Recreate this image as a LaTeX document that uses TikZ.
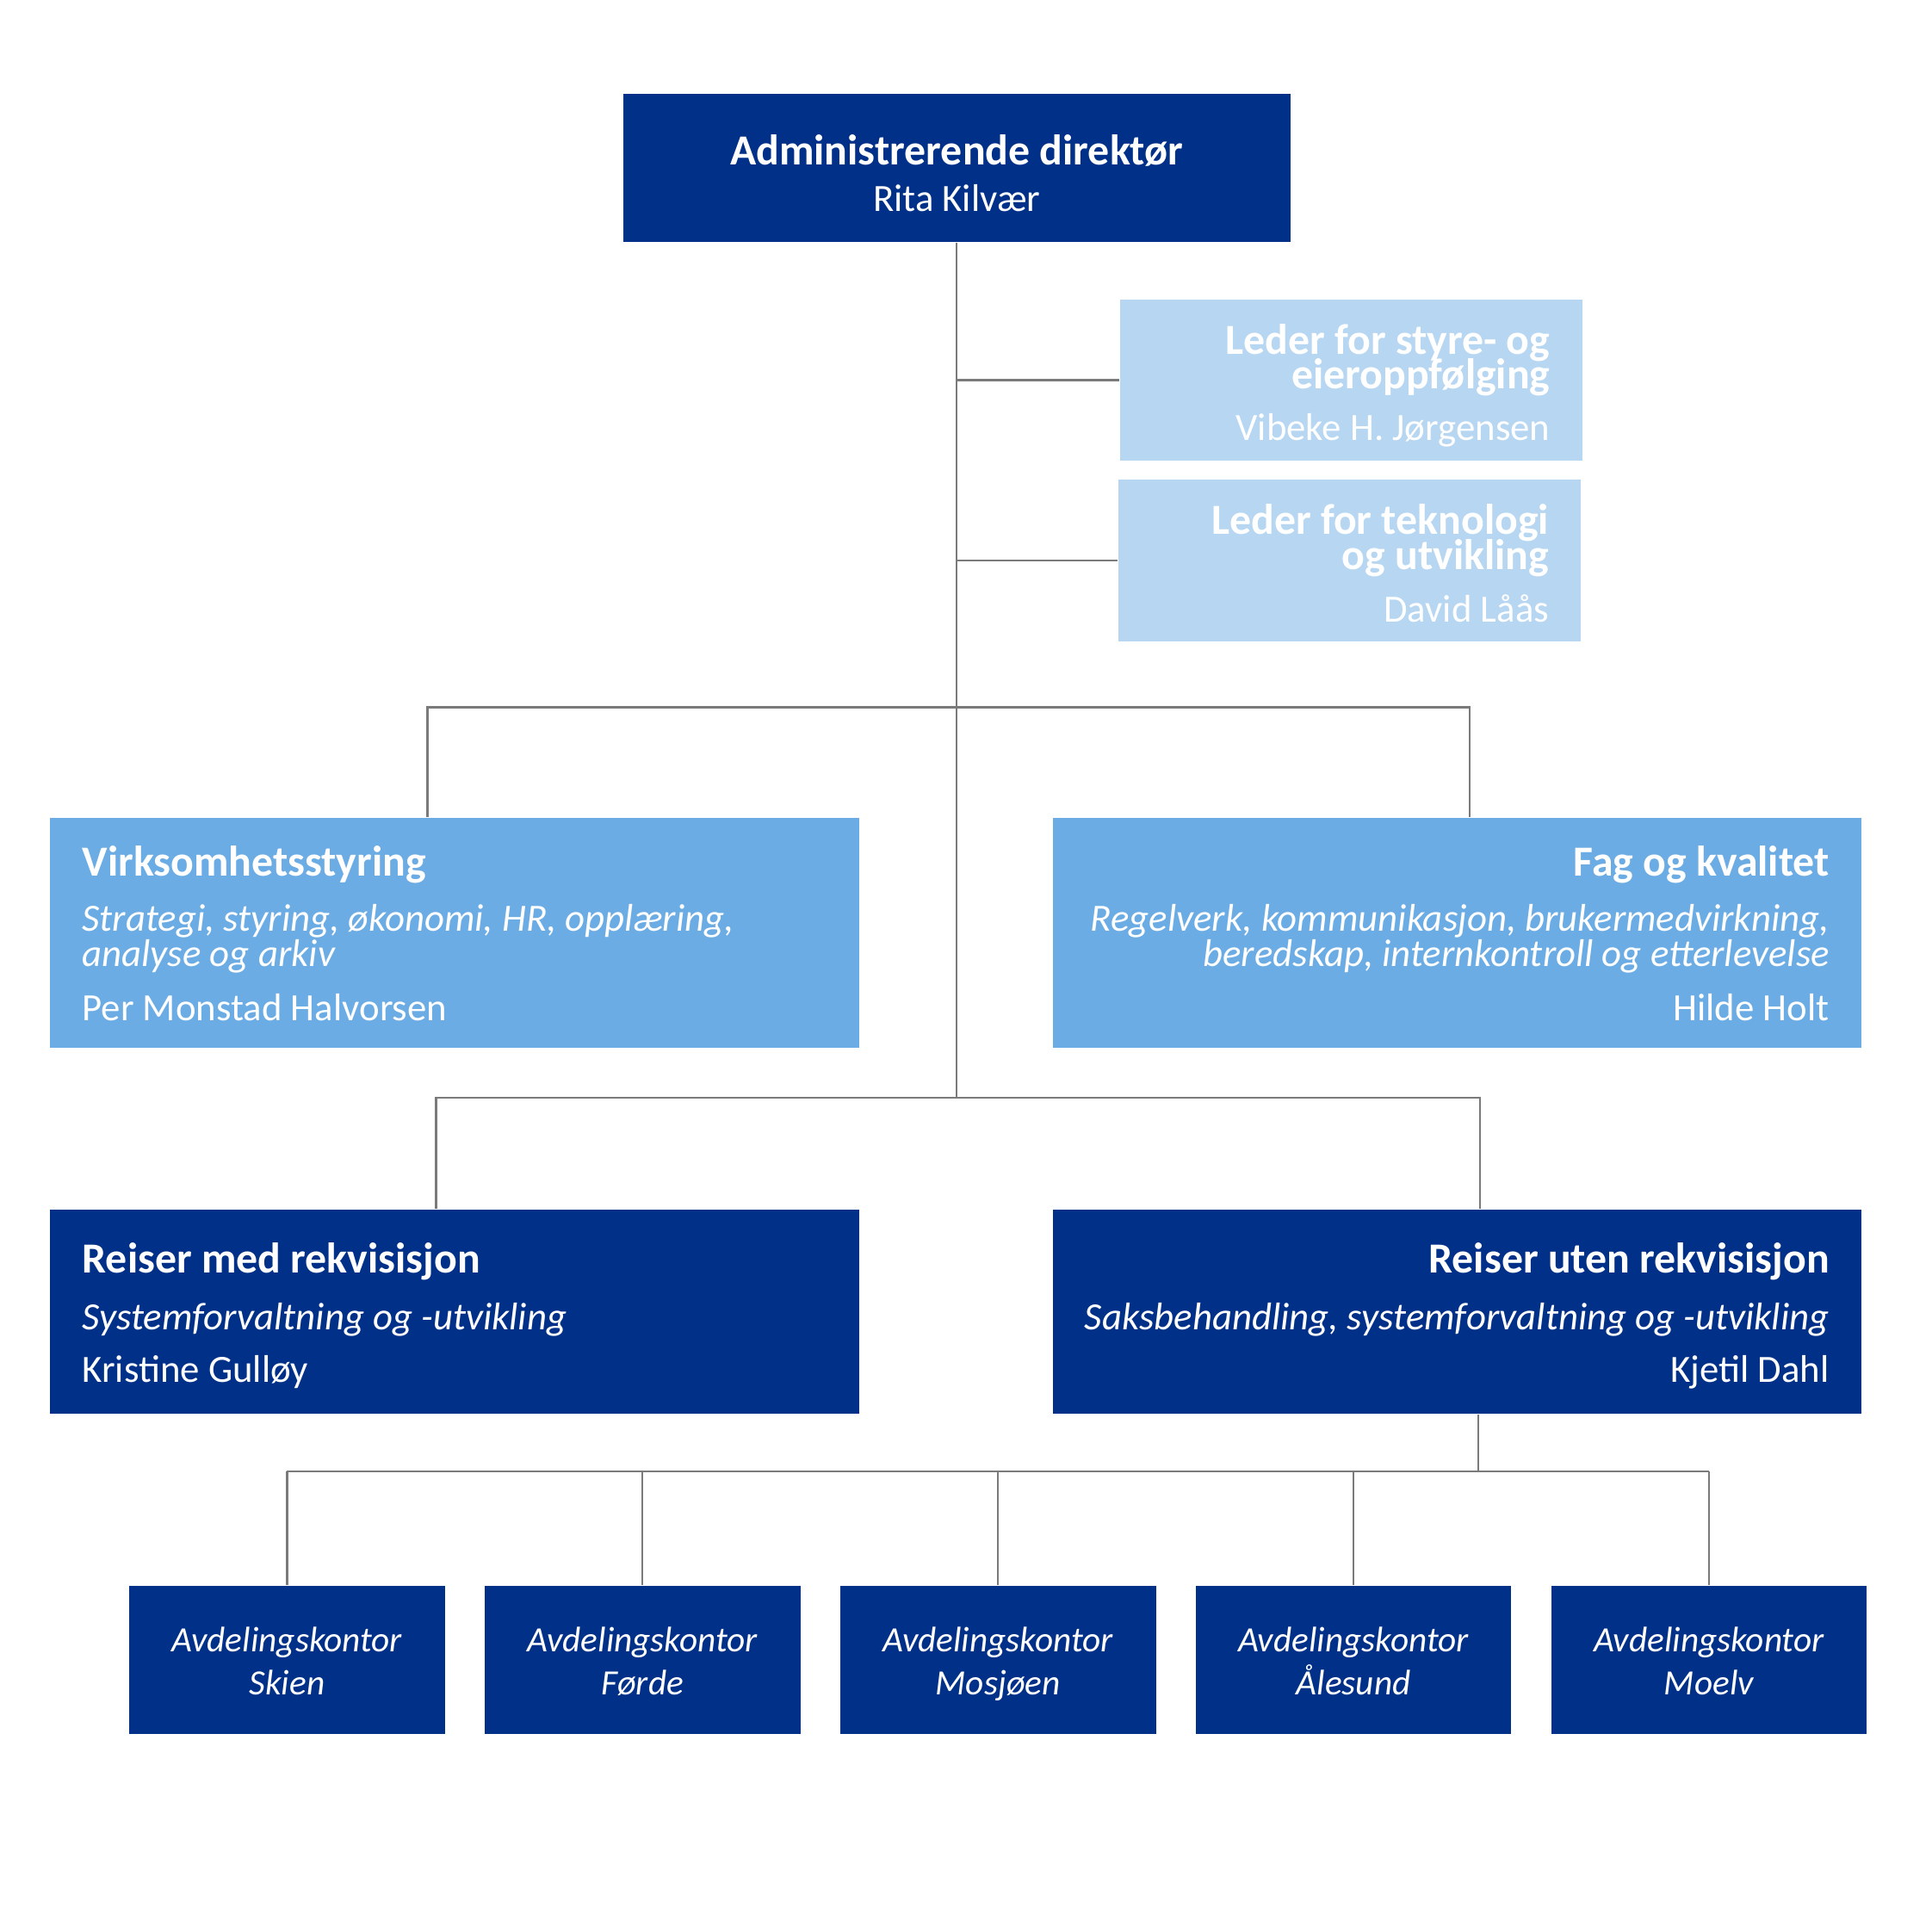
\documentclass[tikz,border=0pt]{standalone}
\usepackage{fontspec}
\setmainfont{Carlito}
\usepackage{xcolor}
\usetikzlibrary{positioning}
\definecolor{ssNavy}{HTML}{003087}
\definecolor{ssPale}{HTML}{B6D6F1}
\definecolor{ssMid}{HTML}{6CACE4}
\definecolor{ssLine}{HTML}{7A7A7A}
\newcommand{\unitTitle}{\fontsize{9.9}{0}\selectfont\bfseries}
\newcommand{\unitName}{\fontsize{8.9}{0}\selectfont\mdseries\upshape}
\newcommand{\unitArea}{\fontsize{8.9}{0}\selectfont\mdseries\itshape}
\newcommand{\officeArea}{\fontsize{8.2}{0}\selectfont\mdseries\itshape}
\tikzset{
    unitBox/.style={rectangle, inner xsep=2.6mm, inner ysep=0pt, text=white,
        font={\fontsize{8}{0}\selectfont\lineskiplimit=-50pt\parskip=0pt\parindent=0pt}},
    navyBox/.style={unitBox, fill=ssNavy},
    paleBox/.style={unitBox, fill=ssPale},
    midBox/.style={unitBox, fill=ssMid},
    firstBase/.style={text height=0pt, text depth=#1},
    orgLine/.style={draw=ssLine, line width=0.45pt}
}

\begin{document}
\begin{tikzpicture}[x=0.01cm, y=-0.01cm]
    \useasboundingbox (0,0) rectangle (1568,1568);
    % top of the organisation
    \node[navyBox, minimum width=5.41cm, minimum height=1.2cm, text width=4.89cm, align=flush center, firstBase=1.1pt] (ceo) at (776.5,136)
        {\unitTitle Administrerende direktør\\[10.6pt]\unitName Rita Kilvær};
    \node[paleBox, minimum width=3.75cm, minimum height=1.31cm, text width=3.23cm, align=flush right, firstBase=11.8pt] (styre) at (1096.5,308.5)
        {\unitTitle Leder for styre- og\\[7.9pt]eieroppfølging\\[12pt]\unitName Vibeke H. Jørgensen};
    \node[paleBox, minimum width=3.75cm, minimum height=1.31cm, text width=3.23cm, align=flush right, firstBase=12.3pt] (tek) at (1095.5,455)
        {\unitTitle Leder for teknologi\\[8.2pt]og utvikling\\[12.2pt]\unitName David Låås};
    % staff units
    \node[midBox, minimum width=6.56cm, minimum height=1.86cm, text width=6.04cm, align=flush left, firstBase=26.2pt] (virk) at (369,757)
        {\unitTitle Virksomhetsstyring\\[12.8pt]\unitArea Strategi, styring, økonomi, HR, opplæring,\\[8pt]analyse og arkiv\\[12.6pt]\unitName Per Monstad Halvorsen};
    \node[midBox, minimum width=6.56cm, minimum height=1.86cm, text width=6.04cm, align=flush right, firstBase=26.2pt] (fag) at (1182.5,757)
        {\unitTitle Fag og kvalitet\\[12.8pt]\unitArea Regelverk, kommunikasjon, brukermedvirkning,\\[8pt]beredskap, internkontroll og etterlevelse\\[12.6pt]\unitName Hilde Holt};
    % line units
    \node[navyBox, minimum width=6.56cm, minimum height=1.65cm, text width=6.04cm, align=flush left, firstBase=17.9pt] (rmed) at (369,1064.5)
        {\unitTitle Reiser med rekvisisjon\\[13.1pt]\unitArea Systemforvaltning og -utvikling\\[12.1pt]\unitName Kristine Gulløy};
    \node[navyBox, minimum width=6.56cm, minimum height=1.65cm, text width=6.04cm, align=flush right, firstBase=17.9pt] (ruten) at (1182.5,1064.5)
        {\unitTitle Reiser uten rekvisisjon\\[13.1pt]\unitArea Saksbehandling, systemforvaltning og -utvikling\\[12.1pt]\unitName Kjetil Dahl};
    % branch offices
    \foreach \i/\place in {1/Skien, 2/Førde, 3/Mosjøen, 4/Ålesund, 5/Moelv}
        \node[navyBox, minimum width=2.56cm, minimum height=1.2cm, text width=2.04cm, align=flush center, firstBase=3.6pt] (avd\i) at ({233+288.5*(\i-1)},1347)
            {\officeArea Avdelingskontor\\[9.8pt]\place};

    \coordinate (bA) at (347,574);  \coordinate (bB) at (1193,574);
    \coordinate (cA) at (354,891);  \coordinate (cB) at (1201,891);
    \coordinate (dA) at (1200,1194);
    \draw[orgLine] (ceo.south) -- (ceo.south |- cA);
    \draw[orgLine] (ceo.south |- styre.west) -- (styre.west);
    \draw[orgLine] (ceo.south |- tek.west) -- (tek.west);
    \draw[orgLine] (bA |- virk.north) -- (bA) -- (bB) -- (bB |- fag.north);
    \draw[orgLine] (cA |- rmed.north) -- (cA) -- (cB) -- (cB |- ruten.north);
    \draw[orgLine] (ruten.south -| dA) -- (dA);
    \draw[orgLine] (avd1.north |- dA) -- (avd5.north |- dA);
    \foreach \i in {1,...,5}
        \draw[orgLine] (avd\i.north) -- (avd\i.north |- dA);
\end{tikzpicture}
\end{document}
